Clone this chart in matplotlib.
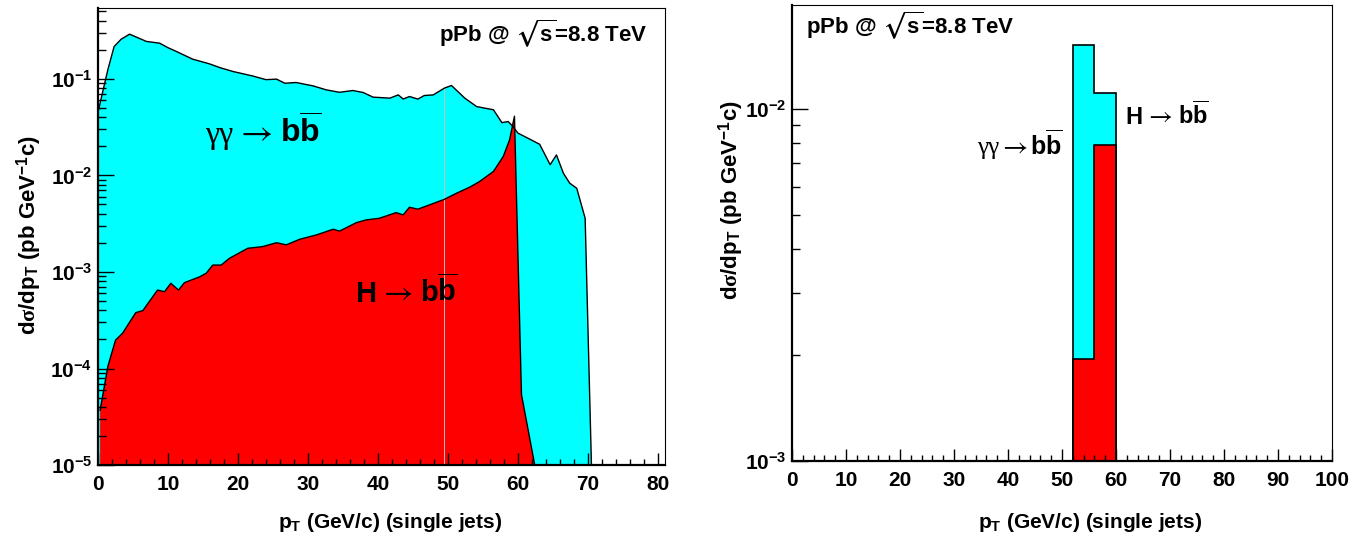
import matplotlib
matplotlib.use('Agg')
import matplotlib.pyplot as plt
import numpy as np
from matplotlib.ticker import LogLocator, FuncFormatter, MultipleLocator, NullFormatter
from matplotlib.offsetbox import TextArea, HPacker, AnnotationBbox

plt.rcParams['font.family'] = ['Liberation Sans', 'DejaVu Sans']
plt.rcParams['font.weight'] = 'bold'
plt.rcParams['mathtext.fontset'] = 'custom'
plt.rcParams['mathtext.rm'] = 'Liberation Serif'
plt.rcParams['mathtext.it'] = 'Liberation Serif:italic'
plt.rcParams['mathtext.bf'] = 'Liberation Sans:bold'
plt.rcParams['mathtext.fallback'] = 'stix'

# gamma gamma -> b bbar, single jet pT spectrum (pb/GeV)
pt_gg = [0.0, 0.5, 1.4, 2.3, 3.3, 4.5, 5.5, 6.9, 8.8, 10.0, 11.2, 13.5, 15.9, 17.5,
         19.3, 22.1, 24.0, 25.5, 26.7, 28.3, 30.7, 32.6, 34.5, 36.4, 37.9, 39.3,
         41.7, 42.9, 43.6, 44.5, 45.7, 46.6, 47.9, 49.5, 50.5, 52.4, 54.1, 56.5,
         57.7, 58.6, 59.2, 60.0, 61.9, 63.1, 64.6, 65.5, 66.5, 67.4, 68.4, 69.6, 70.5]
xs_gg = [0.045, 0.065, 0.124, 0.216, 0.257, 0.29, 0.27, 0.244, 0.234, 0.21, 0.192,
         0.16, 0.143, 0.13, 0.119, 0.107, 0.098, 0.0993, 0.090, 0.0916, 0.0846,
         0.0769, 0.0725, 0.0757, 0.0721, 0.0646, 0.0631, 0.0682, 0.0617, 0.0656,
         0.0617, 0.0671, 0.0682, 0.0802, 0.0853, 0.0631, 0.0516, 0.0478, 0.0352,
         0.0361, 0.0326, 0.0274, 0.0233, 0.0210, 0.0129, 0.0163, 0.0105, 0.0083,
         0.00736, 0.0036, 1.0e-5]

# H -> b bbar
pt_h = [0.3, 1.4, 2.5, 3.5, 5.4, 6.4, 8.5, 9.5, 10.4, 11.5, 12.35, 14.5, 15.45,
        16.4, 17.6, 18.8, 21.4, 23.5, 25.5, 26.9, 28.8, 31.2, 33.6, 34.5, 36.9,
        38.3, 40.2, 42.6, 43.6, 44.5, 45.7, 49.5, 51.2, 53.1, 54.5, 56.5, 57.9,
        58.8, 59.5, 60.5, 62.4]
xs_h = [3.7e-5, 1.05e-4, 1.97e-4, 2.32e-4, 3.8e-4, 3.98e-4, 6.5e-4, 6.25e-4,
        7.64e-4, 6.5e-4, 7.76e-4, 8.9e-4, 9.7e-4, 1.18e-3, 1.18e-3, 1.39e-3,
        1.76e-3, 1.83e-3, 2.01e-3, 1.91e-3, 2.18e-3, 2.42e-3, 2.77e-3, 2.65e-3,
        3.24e-3, 3.46e-3, 3.6e-3, 4.12e-3, 3.9e-3, 4.68e-3, 4.47e-3, 5.66e-3,
        6.53e-3, 7.55e-3, 8.63e-3, 0.011, 0.0157, 0.0233, 0.041, 5.4e-5, 1.0e-5]

# binned version, 4 GeV bins
bin_edges = [52, 56, 60]
bin_gg = [0.0152, 0.0111]
bin_h = [0.00195, 0.0079]

title = r'pPb @ $\sqrt{\mathbf{s}}$=8.8 TeV'
xlabel = r'p$_{\mathbf{T}}$ (GeV/c) (single jets)'
ylabel = r'd$\mathrm{\sigma}$/dp$_{\mathbf{T}}$ (pb GeV$^{\mathbf{-1}}$c)'


def exp_label(v, pos):
    return r'$\mathbf{10^{%d}}$' % int(round(np.log10(v)))


def style_axes(ax, xmax):
    ax.set_yscale('log')
    ax.xaxis.set_major_locator(MultipleLocator(10))
    ax.xaxis.set_minor_locator(MultipleLocator(2))
    ax.yaxis.set_major_locator(LogLocator(base=10))
    ax.yaxis.set_minor_locator(LogLocator(base=10, subs=np.arange(2, 10)))
    ax.yaxis.set_major_formatter(FuncFormatter(exp_label))
    ax.yaxis.set_minor_formatter(NullFormatter())
    ax.tick_params(which='both', direction='in', top=False, right=False, width=1.0)
    ax.tick_params(axis='x', which='major', length=8.6, pad=7, labelsize=15)
    ax.tick_params(axis='x', which='minor', length=4.3)
    ax.tick_params(axis='y', which='major', length=11.5, pad=4, labelsize=15)
    ax.tick_params(axis='y', which='minor', length=5.8)
    for lbl in ax.get_xticklabels():
        lbl.set_fontweight('bold')
    ax.spines['left'].set_linewidth(1.6)
    ax.spines['bottom'].set_linewidth(1.6)
    ax.spines['top'].set_linewidth(0.8)
    ax.spines['right'].set_linewidth(0.8)
    ax.set_xlim(0, xmax)


def process_label(ax, x, y, initial, size, serif_initial=True, sep=5):
    # "initial -> b bbar" built from pieces so each part keeps its own font
    if serif_initial:
        first = TextArea(initial, textprops=dict(family='Liberation Serif',
                                                 weight='normal', size=size))
    else:
        first = TextArea(initial, textprops=dict(weight='bold', size=size))
    arrow = TextArea('\u2192', textprops=dict(family='STIXGeneral', weight='normal',
                                              size=size * 1.1))
    bb = TextArea(r'$\mathbf{b\overline{b}}$', textprops=dict(size=size))
    box = HPacker(children=[first, arrow, bb], align='baseline', pad=0, sep=sep)
    ab = AnnotationBbox(box, (x, y), xycoords='data', frameon=False,
                        box_alignment=(0.5, 0.5), pad=0)
    ax.add_artist(ab)


fig = plt.figure(figsize=(13.71, 5.39), dpi=100)

ax1 = fig.add_axes([0.0715, 0.137, 0.4135, 0.848])
style_axes(ax1, 81)
ax1.set_ylim(1e-5, 0.54)
ax1.fill_between(pt_gg, xs_gg, 1e-7, color='#00ffff', lw=0)
ax1.fill_between(pt_h, xs_h, 1e-7, color='#ff0000', lw=0)
ax1.vlines(49.5, 1e-5, np.interp(49.5, pt_gg, xs_gg), color='#c0c0c0', lw=0.7)
ax1.plot(pt_h, xs_h, color='k', lw=1.0)
ax1.plot(pt_gg, xs_gg, color='k', lw=1.0)
process_label(ax1, 23.6, 0.0275, '\u03b3\u03b3', 23)
process_label(ax1, 44.1, 6.2e-4, 'H', 21, serif_initial=False)
ax1.text(0.786, 0.945, title, transform=ax1.transAxes, fontsize=16,
         ha='center', va='center')

ax2 = fig.add_axes([0.5777, 0.1447, 0.3939, 0.846])
style_axes(ax2, 100)
ax2.set_ylim(1e-3, 0.0197)
ax2.stairs(bin_gg, bin_edges, baseline=1e-5, fill=True, color='#00ffff')
ax2.stairs(bin_h, bin_edges, baseline=1e-5, fill=True, color='#ff0000')
ax2.stairs(bin_gg, bin_edges, baseline=1e-5, color='k', lw=1.2)
ax2.stairs(bin_h, bin_edges, baseline=1e-5, color='k', lw=1.2)
process_label(ax2, 42.2, 0.0079, '\u03b3\u03b3', 18, sep=2)
process_label(ax2, 69.4, 0.00955, 'H', 17, serif_initial=False, sep=4)
ax2.text(0.219, 0.956, title, transform=ax2.transAxes, fontsize=16,
         ha='center', va='center')

# axis titles
fig.text(390 / 1371, 1 - 523 / 539, xlabel, fontsize=15, ha='center', va='center')
fig.text(1090 / 1371, 1 - 523 / 539, xlabel, fontsize=15, ha='center', va='center')
fig.text(29 / 1371, 1 - 235 / 539, ylabel, fontsize=16, ha='center', va='center',
         rotation=90)
fig.text(731 / 1371, 1 - 200 / 539, ylabel, fontsize=16, ha='center', va='center',
         rotation=90)

fig.savefig('out.png', dpi=100)
